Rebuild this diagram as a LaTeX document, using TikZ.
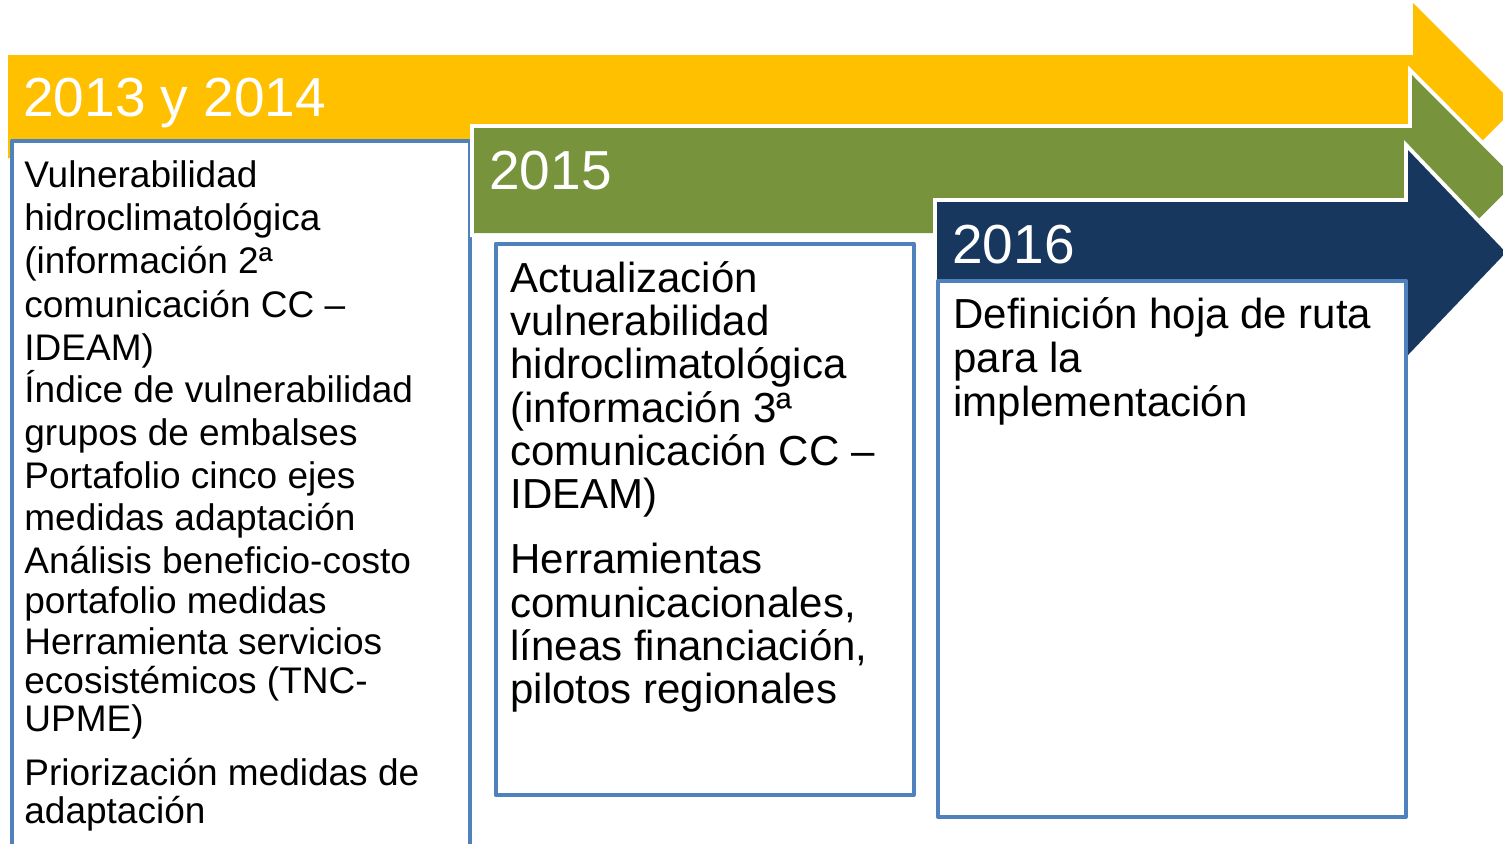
\documentclass[tikz,border=0pt]{standalone}
\usepackage{fontspec}
\setmainfont{Liberation Sans}
\definecolor{yel}{HTML}{FFC000}
\definecolor{grn}{HTML}{77933C}
\definecolor{nvy}{HTML}{17375E}
\definecolor{bord}{HTML}{4F81BD}
\begin{document}
\begin{tikzpicture}[x=0.5pt,y=-0.5pt,
  arrowshape/.style={draw=white, line width=4pt, line join=miter, postaction={fill=#1, draw=none}},
  box/.style={draw=bord, line width=2pt, fill=white, line join=round},
  year/.style={text=white, font=\fontsize{27.5}{33}\selectfont, anchor=base west, inner sep=0pt},
  txtA/.style={font=\fontsize{18.5}{22}\selectfont, anchor=base west, inner sep=0pt},
  txtB/.style={font=\fontsize{21}{25}\selectfont, anchor=base west, inner sep=0pt},
]
\useasboundingbox (0,0) rectangle (1503,843);
\clip (0,0) rectangle (1503,843);
\fill[white] (0,0) rectangle (1503,843);

% yellow arrow
\path[arrowshape=yel] (8,55) -- (1413,55) -- (1413,3) -- (1516.5,106.5) -- (1413,210) -- (1413,158) -- (8,158) -- cycle;
\node[year] (y1) at (23,116) {2013 y 2014};

% box 1
\draw[box] (12,141) rectangle (470,880);
\foreach \yy/\txt [count=\i] in {187/Vulnerabilidad, 230/hidroclimatológica, 273/(información 2ª, 317/comunicación CC –, 360/IDEAM), 402/Índice de vulnerabilidad, 445/grupos de embalses, 488/Portafolio cinco ejes, 530/medidas adaptación, 573/Análisis beneficio-costo, 613/portafolio medidas, 654/Herramienta servicios, 693/ecosistémicos (TNC-, 731/UPME), 785/Priorización medidas de, 823/adaptación}
  \node[txtA] (ba\i) at (24,\yy) {\txt};

% green arrow
\path[arrowshape=grn] (474,128) -- (1412,128) -- (1412,75) -- (1517,180.5) -- (1412,286) -- (1412,233) -- (474,233) -- cycle;
\node[year] (y2) at (489,189) {2015};

% box 2
\draw[box] (495.5,243.5) rectangle (913.5,795);
\foreach \yy/\txt [count=\i] in {292/Actualización, 335/vulnerabilidad, 378/hidroclimatológica, 422/(información 3ª, 465/comunicación CC –, 508/IDEAM), 573/Herramientas, 617/{comunicacionales,}, 660/{líneas financiación,}, 703/pilotos regionales}
  \node[txtB] (bb\i) at (510,\yy) {\txt};

% blue arrow
\path[arrowshape=nvy] (937,202) -- (1408,202) -- (1408,150) -- (1506,252.5) -- (1408,355) -- (1408,303) -- (937,303) -- cycle;
\node[year] (y3) at (952,263) {2016};

% box 3
\draw[box] (938,280.5) rectangle (1405.5,817);
\foreach \yy/\txt [count=\i] in {328/Definición hoja de ruta, 372/para la, 416/implementación}
  \node[txtB] (bc\i) at (953,\yy) {\txt};
\end{tikzpicture}
\end{document}
